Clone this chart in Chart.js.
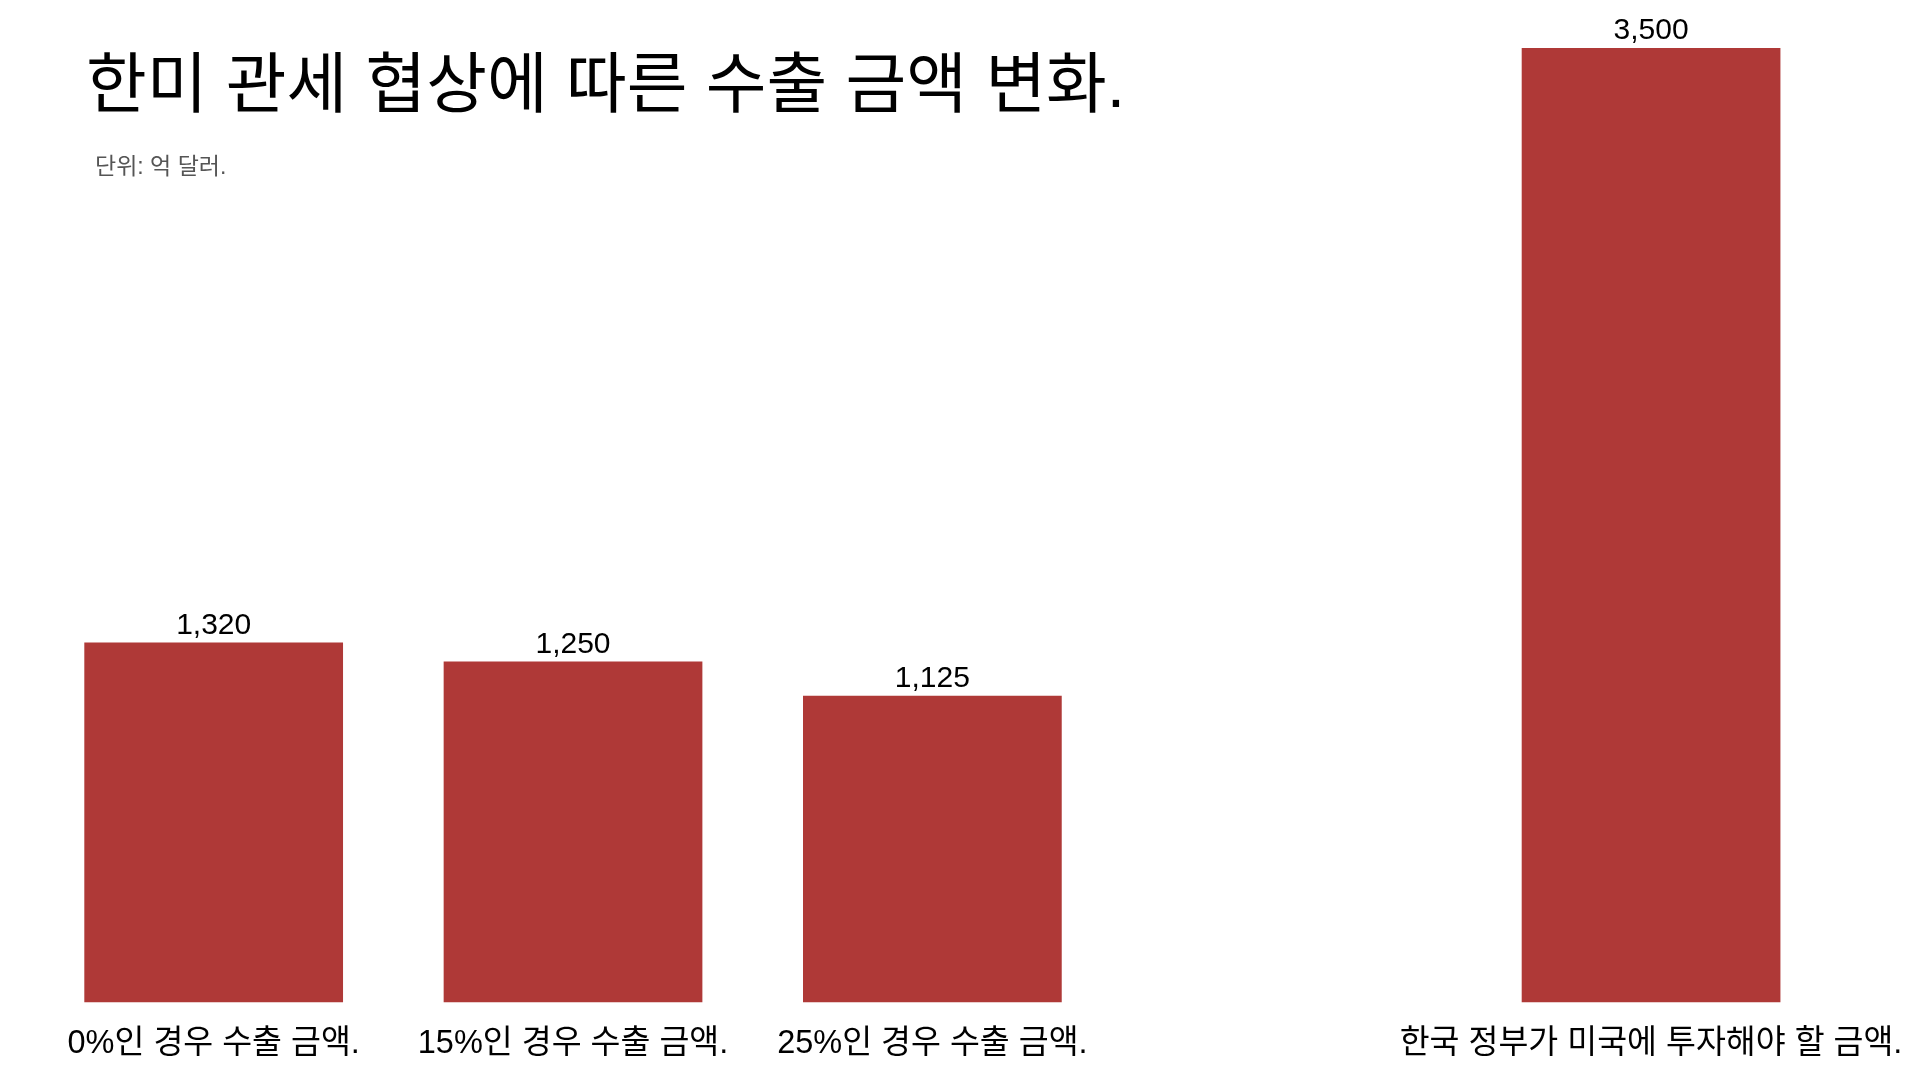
<!DOCTYPE html>
<html>
<head>
<meta charset="utf-8">
<script src="https://cdn.jsdelivr.net/npm/chart.js@4"></script>
<style>
  html, body { margin: 0; padding: 0; background: #fff; }
  #wrap { position: relative; width: 1920px; height: 1080px; }
  #title { position: absolute; left: 86px; top: 45px; font-family: "Liberation Sans", "Noto Sans CJK KR", sans-serif; font-size: 66px; color: #000; white-space: nowrap; line-height: 1.2; }
  #subtitle { position: absolute; left: 95px; top: 147px; font-family: "Liberation Sans", "Noto Sans CJK KR", sans-serif; font-size: 23px; color: #555; white-space: nowrap; }
</style>
</head>
<body>
<div id="wrap">
  <canvas id="c" width="1920" height="1080"></canvas>
  <div id="title">한미 관세 협상에 따른 수출 금액 변화.</div>
  <div id="subtitle">단위: 억 달러.</div>
</div>
<script>
const categories = ["0%인 경우 수출 금액.", "15%인 경우 수출 금액.", "25%인 경우 수출 금액.", "", "한국 정부가 미국에 투자해야 할 금액."];
const values = [1320, 1250, 1125, null, 3500];
const barColor = "#AF3937";
const fontStack = '"Liberation Sans", "Noto Sans CJK KR", sans-serif';

const valueLabels = {
  id: 'valueLabels',
  afterDatasetsDraw(chart) {
    const ctx = chart.ctx;
    const meta = chart.getDatasetMeta(0);
    ctx.save();
    ctx.font = '30px ' + fontStack;
    ctx.fillStyle = '#000';
    ctx.textAlign = 'center';
    ctx.textBaseline = 'alphabetic';
    meta.data.forEach((bar, i) => {
      const v = values[i];
      if (v == null) return;
      ctx.fillText(v.toLocaleString('en-US'), bar.x, bar.y - 9);
    });
    ctx.restore();
  }
};

new Chart(document.getElementById('c'), {
  type: 'bar',
  data: {
    labels: categories,
    datasets: [{
      data: values,
      backgroundColor: barColor,
      borderWidth: 0
    }]
  },
  options: {
    responsive: false,
    animation: false,
    layout: { padding: { left: 34, right: 10, top: 48, bottom: -5.5 } },
    plugins: { legend: { display: false }, tooltip: { enabled: false }, title: { display: false } },
    scales: {
      x: {
        grid: { display: false, drawTicks: false },
        border: { display: false },
        ticks: { color: '#000', padding: 22, font: { size: 32.5, family: fontStack }, maxRotation: 0, autoSkip: false },
        afterFit(scale) { scale.paddingRight = Math.max(scale.paddingRight - 6, 0); }
      },
      y: { display: false, min: 0, max: 3500 }
    }
  },
  plugins: [valueLabels]
});
</script>
</body>
</html>
